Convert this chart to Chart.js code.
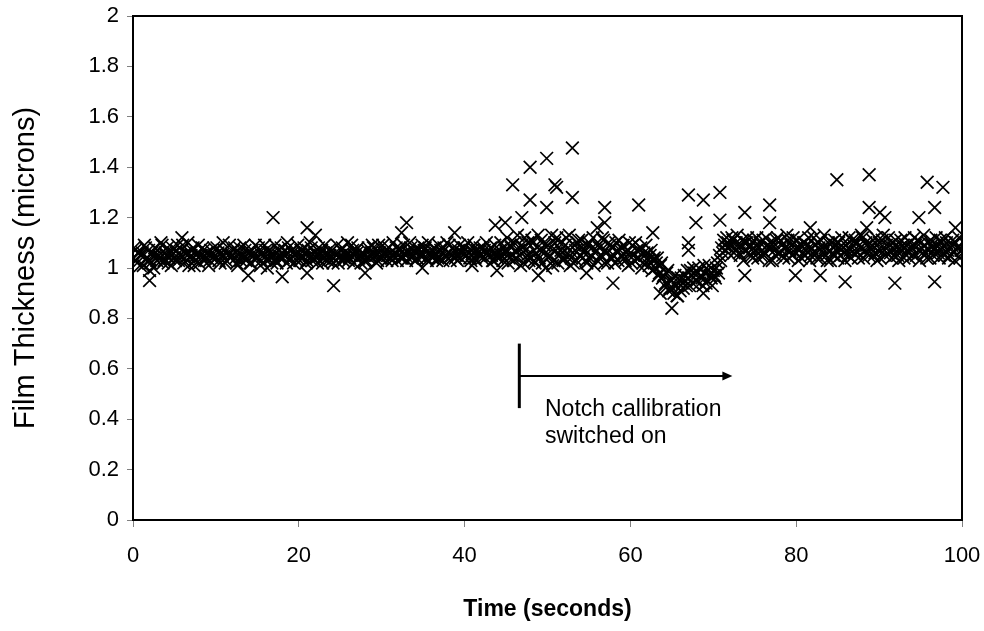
<!DOCTYPE html>
<html>
<head>
<meta charset="utf-8">
<script src="https://cdn.jsdelivr.net/npm/chart.js@4.4.1/dist/chart.umd.min.js"></script>
<style>
html,body{margin:0;padding:0;background:#fff;}
#wrap{width:984px;height:631px;}
</style>
</head>
<body>
<div id="wrap"><canvas id="c" width="984" height="631"></canvas></div>
<script>
// ---- data ----
const sampleInterval = 0.25;  // seconds between readings in each band series
const bandStartA = 0;         // seconds
const bandStartB = 0.125;     // seconds (interleaved readings)
// main band of thickness readings (microns), t = 0, 0.25, ... 100 s
const bandThicknessA = [
 1.04,1.07,1.02,1.06, 1.05,1.01,1.08,1.04, 1.03,1.06,1.00,1.05, 1.07,1.04,1.09,1.03, 1.05,1.02,1.06,1.08,
 1.04,1.07,1.03,1.05, 1.09,1.04,1.06,1.01, 1.05,1.08,1.03,1.06, 1.02,1.05,1.07,1.04, 1.06,1.03,1.05,1.08,
 1.04,1.06,1.02,1.05, 1.07,1.03,1.05,1.04, 1.05,1.08,1.02,1.06, 1.03,1.05,1.07,1.04, 1.06,1.02,1.05,1.09,
 1.04,1.06,1.03,1.05, 1.07,1.04,1.06,1.02, 1.05,1.03,1.07,1.04, 1.06,1.05,1.02,1.08, 1.04,1.06,1.05,1.03,
 1.05,1.07,1.04,1.06, 1.03,1.05,1.08,1.04, 1.06,1.02,1.05,1.07, 1.04,1.06,1.03,1.05, 1.07,1.04,1.05,1.02,
 1.05,1.08,1.04,1.06, 1.03,1.05,1.07,1.05, 1.06,1.04,1.02,1.05, 1.05,1.07,1.04,1.06, 1.08,1.05,1.03,1.06,
 1.04,1.06,1.07,1.05, 1.06,1.03,1.05,1.08, 1.05,1.07,1.04,1.06, 1.03,1.06,1.08,1.05, 1.06,1.04,1.07,1.05,
 1.05,1.08,1.03,1.06, 1.07,1.05,1.06,1.04, 1.04,1.06,1.08,1.05, 1.06,1.03,1.05,1.07, 1.05,1.07,1.04,1.06,
 1.08,1.05,1.06,1.03, 1.06,1.04,1.07,1.05, 1.05,1.08,1.04,1.06, 1.07,1.05,1.03,1.06, 1.04,1.07,1.05,1.08,
 1.06,1.02,1.09,1.05, 1.10,1.04,1.07,1.01, 1.08,1.12,1.05,1.03, 1.06,1.10,1.02,1.08, 1.04,1.11,1.07,1.00,
 1.09,1.05,1.13,1.03, 1.07,1.02,1.10,1.06, 1.04,1.12,1.08,1.01, 1.06,1.09,1.03,1.11, 1.08,1.04,1.07,1.02,
 1.10,1.05,1.12,1.06, 1.03,1.08,1.05,1.11, 1.07,1.02,1.09,1.04, 1.05,1.10,1.03,1.07, 1.08,1.04,1.06,1.01,
 1.06,1.09,1.03,1.07, 1.04,1.08,1.02,1.05, 1.06,1.01,1.07,1.03, 1.00,1.04,0.98,1.02, 0.97,0.94,0.99,0.92,
 0.95,0.90,0.93,0.96, 0.91,0.94,0.97,0.93, 0.96,0.99,0.94,0.98, 0.95,1.00,0.97,0.93, 0.98,0.95,1.01,0.96,
 0.99,0.96,1.02,1.05, 1.08,1.11,1.07,1.10, 1.09,1.12,1.06,1.10, 1.08,1.05,1.11,1.07, 1.10,1.06,1.09,1.04,
 1.07,1.12,1.08,1.05, 1.11,1.06,1.09,1.03, 1.08,1.10,1.05,1.12, 1.06,1.09,1.04,1.08, 1.11,1.07,1.05,1.10,
 1.08,1.03,1.09,1.06, 1.10,1.07,1.12,1.05, 1.06,1.09,1.04,1.08, 1.11,1.06,1.08,1.03, 1.07,1.10,1.05,1.09,
 1.04,1.08,1.12,1.06, 1.09,1.05,1.07,1.11, 1.06,1.10,1.04,1.08, 1.12,1.07,1.09,1.05, 1.08,1.11,1.06,1.03,
 1.10,1.07,1.13,1.05, 1.06,1.09,1.04,1.08, 1.11,1.05,1.08,1.07, 1.04,1.09,1.06,1.10, 1.08,1.12,1.05,1.07,
 1.10,1.06,1.09,1.04, 1.07,1.11,1.05,1.08, 1.09,1.04,1.10,1.06, 1.12,1.07,1.05,1.09, 1.06,1.10,1.08,1.04,
 1.07
];
// interleaved band readings (microns), t = 0.125, 0.375, ... 99.875 s
const bandThicknessB = [
 1.08,1.03,1.06,1.01, 1.06,1.09,1.04,1.07, 1.02,1.05,1.08,1.03, 1.05,1.10,1.02,1.06, 1.08,1.04,1.01,1.06,
 1.03,1.09,1.05,1.07, 1.02,1.06,1.10,1.04, 1.07,1.01,1.05,1.09, 1.05,1.08,1.03,1.06, 1.01,1.07,1.04,1.05,
 1.08,1.03,1.06,1.10, 1.02,1.06,1.09,1.05, 1.07,1.04,1.01,1.08, 1.05,1.09,1.03,1.06, 1.02,1.07,1.05,1.04,
 1.08,1.01,1.06,1.09, 1.03,1.07,1.04,1.06, 1.09,1.02,1.05,1.08, 1.04,1.07,1.10,1.03, 1.07,1.02,1.06,1.09,
 1.03,1.05,1.08,1.02, 1.07,1.10,1.03,1.06, 1.04,1.08,1.06,1.02, 1.09,1.05,1.07,1.03, 1.02,1.06,1.09,1.04,
 1.07,1.03,1.05,1.10, 1.04,1.09,1.02,1.07, 1.08,1.05,1.06,1.03, 1.03,1.08,1.05,1.09, 1.06,1.02,1.09,1.04,
 1.09,1.05,1.03,1.08, 1.04,1.10,1.06,1.03, 1.08,1.04,1.09,1.05, 1.06,1.10,1.04,1.07, 1.03,1.08,1.05,1.09,
 1.07,1.04,1.10,1.05, 1.04,1.08,1.03,1.09, 1.07,1.03,1.05,1.10, 1.09,1.05,1.08,1.04, 1.03,1.09,1.06,1.08,
 1.05,1.10,1.04,1.07, 1.09,1.03,1.06,1.08, 1.04,1.07,1.10,1.05, 1.08,1.03,1.09,1.05, 1.06,1.10,1.03,1.07,
 1.12,1.04,1.08,1.03, 1.07,1.13,1.05,1.09, 1.02,1.07,1.10,1.04, 1.11,1.03,1.06,1.13, 1.07,1.02,1.09,1.05,
 1.04,1.08,1.01,1.10, 1.12,1.05,1.07,1.03, 1.09,1.06,1.13,1.04, 1.02,1.07,1.10,1.05, 1.11,1.06,1.03,1.09,
 1.04,1.08,1.01,1.07, 1.09,1.05,1.12,1.02, 1.06,1.10,1.04,1.08, 1.02,1.07,1.11,1.05, 1.09,1.03,1.07,1.10,
 1.02,1.05,1.10,1.04, 1.07,1.00,1.06,1.09, 1.03,1.05,0.99,1.04, 1.02,0.97,1.01,0.96, 0.93,0.98,0.91,0.95,
 0.92,0.97,0.89,0.94, 0.96,0.92,0.95,0.99, 0.93,0.97,1.00,0.95, 0.98,0.94,0.96,1.01, 0.94,0.99,0.97,0.93,
 0.97,1.00,0.98,1.03, 1.06,1.09,1.12,1.08, 1.05,1.11,1.08,1.13, 1.06,1.09,1.03,1.10, 1.12,1.08,1.05,1.11,
 1.09,1.04,1.10,1.07, 1.05,1.12,1.08,1.10, 1.03,1.07,1.11,1.06, 1.11,1.05,1.08,1.13, 1.04,1.09,1.12,1.06,
 1.11,1.07,1.04,1.10, 1.05,1.09,1.03,1.08, 1.12,1.06,1.10,1.04, 1.08,1.13,1.05,1.10, 1.03,1.06,1.11,1.07,
 1.10,1.05,1.08,1.03, 1.07,1.12,1.04,1.09, 1.11,1.06,1.09,1.13, 1.04,1.10,1.06,1.08, 1.09,1.05,1.12,1.07,
 1.04,1.11,1.07,1.09, 1.12,1.06,1.10,1.05, 1.08,1.03,1.11,1.09, 1.12,1.07,1.04,1.08, 1.05,1.09,1.11,1.03,
 1.08,1.13,1.06,1.10, 1.04,1.09,1.07,1.12, 1.06,1.11,1.08,1.05, 1.10,1.04,1.08,1.11, 1.03,1.08,1.12,1.07
];
// scattered readings away from the band
const outlierTimes = [2.0,2.0,5.9,13.9,16.2,16.9,18.0,21.0,21.0,22.0,24.2,28.0,32.4,33.0,34.9,38.8,40.9,43.7,43.9,44.9,
 45.8,46.9,47.9,47.9,48.9,49.9,49.9,50.9,51.1,53.0,53.0,54.7,56.0,56.9,56.9,57.9,61.0,62.7,63.6,65.0,
 65.7,67.0,67.0,67.0,67.9,68.8,68.8,70.8,70.8,73.8,73.8,76.8,76.8,79.9,81.7,82.9,84.9,85.9,88.5,88.8,
 88.8,90.1,90.7,91.9,94.8,95.8,96.7,96.7,97.7,99.2];
const outlierThickness = [0.95,0.99,1.12,0.97,1.00,1.20,0.965,1.16,0.98,1.13,0.93,0.98,1.14,1.18,1.00,1.14,1.01,1.17,0.99,1.18,
 1.33,1.20,1.40,1.27,0.97,1.435,1.24,1.33,1.32,1.476,1.28,0.98,1.16,1.24,1.18,0.94,1.25,1.14,0.90,0.84,
 0.89,1.29,1.10,1.07,1.18,1.27,0.90,1.30,1.19,1.22,0.97,1.25,1.18,0.97,1.16,0.97,1.35,0.945,1.16,1.37,
 1.24,1.22,1.20,0.94,1.20,1.34,1.24,0.945,1.32,1.16];
const xTicks = [0,20,40,60,80,100];
const yTickLabels = ['0','0.2','0.4','0.6','0.8','1','1.2','1.4','1.6','1.8','2'];
// annotation (data coordinates)
const noteStartTime = 46.6, noteEndTime = 72.3, noteLevel = 0.571;
const noteBarTop = 0.70, noteBarBottom = 0.444;
const noteTextTime = 49.7, noteLines = ['Notch callibration', 'switched on'];
const noteLineLevels = [0.413, 0.306];

// ---- build chart ----
const toPoints = (arr, start) => arr.map((v, i) => ({x: start + i * sampleInterval, y: v}));
const bandPoints = toPoints(bandThicknessA, bandStartA).concat(toPoints(bandThicknessB, bandStartB));
const outlierPoints = outlierTimes.map((t, i) => ({x: t, y: outlierThickness[i]}));
const FONT = "'Liberation Sans', Arial, sans-serif";

const frame = {
  id: 'frame',
  afterDatasetsDraw(chart) {
    const {ctx, chartArea: a, scales: {x, y}} = chart;
    ctx.save();
    ctx.strokeStyle = '#000';
    ctx.lineWidth = 2;
    ctx.strokeRect(a.left, a.top, a.right - a.left, a.bottom - a.top);
    // annotation
    const x0 = x.getPixelForValue(noteStartTime);
    const x1 = x.getPixelForValue(noteEndTime);
    const yl = y.getPixelForValue(noteLevel);
    ctx.lineWidth = 3;
    ctx.beginPath();
    ctx.moveTo(x0, y.getPixelForValue(noteBarTop));
    ctx.lineTo(x0, y.getPixelForValue(noteBarBottom));
    ctx.stroke();
    ctx.lineWidth = 2;
    ctx.beginPath();
    ctx.moveTo(x0, yl);
    ctx.lineTo(x1 - 8, yl);
    ctx.stroke();
    ctx.fillStyle = '#000';
    ctx.beginPath();
    ctx.moveTo(x1, yl);
    ctx.lineTo(x1 - 10, yl - 4.5);
    ctx.lineTo(x1 - 10, yl + 4.5);
    ctx.closePath();
    ctx.fill();
    ctx.font = '23px ' + FONT;
    ctx.textAlign = 'left';
    ctx.textBaseline = 'alphabetic';
    noteLines.forEach((s, i) => ctx.fillText(s, x.getPixelForValue(noteTextTime), y.getPixelForValue(noteLineLevels[i])));
    ctx.restore();
  }
};

const markerStyle = {
  pointStyle: 'crossRot',
  pointRadius: 9,
  pointHoverRadius: 9,
  borderColor: '#000',
  backgroundColor: '#000',
  pointBorderWidth: 1.7,
  showLine: false
};

function noPad(s) { s.paddingLeft = 0; s.paddingRight = 0; s.paddingTop = 0; s.paddingBottom = 0; }

new Chart(document.getElementById('c'), {
  type: 'scatter',
  data: {
    datasets: [
      Object.assign({label: 'Film thickness', data: bandPoints}, markerStyle),
      Object.assign({label: 'Film thickness (scattered)', data: outlierPoints}, markerStyle)
    ]
  },
  options: {
    responsive: false,
    animation: false,
    events: [],
    layout: {padding: {top: 16, right: 22, left: 0, bottom: 0}},
    plugins: {legend: {display: false}, tooltip: {enabled: false}},
    scales: {
      x: {
        type: 'linear', min: 0, max: 100,
        afterFit(s) { s.height = 111; noPad(s); },
        afterBuildTicks(s) { s.ticks = xTicks.map(v => ({value: v})); },
        grid: {display: true, drawOnChartArea: false, drawTicks: true, tickLength: 7, color: '#808080', lineWidth: 1},
        border: {display: true, color: '#000', width: 2},
        ticks: {color: '#000', padding: 16, font: {family: FONT, size: 22}, maxRotation: 0},
        title: {display: true, text: 'Time (seconds)', color: '#000', font: {family: FONT, size: 23, weight: 'bold'}, padding: {top: 0, bottom: 8}}
      },
      y: {
        type: 'linear', min: 0, max: 2,
        afterFit(s) { s.width = 133; noPad(s); },
        afterBuildTicks(s) { s.ticks = yTickLabels.map(l => ({value: parseFloat(l)})); },
        grid: {display: true, drawOnChartArea: false, drawTicks: true, tickLength: 6, color: '#808080', lineWidth: 1},
        border: {display: true, color: '#000', width: 2},
        ticks: {color: '#000', padding: 8, font: {family: FONT, size: 22},
          callback: (v) => yTickLabels[Math.round(v * 5)]},
        title: {display: true, text: 'Film Thickness (microns)', color: '#000', font: {family: FONT, size: 29}, padding: {top: 9, bottom: 0}}
      }
    }
  },
  plugins: [frame]
});
</script>
</body>
</html>
